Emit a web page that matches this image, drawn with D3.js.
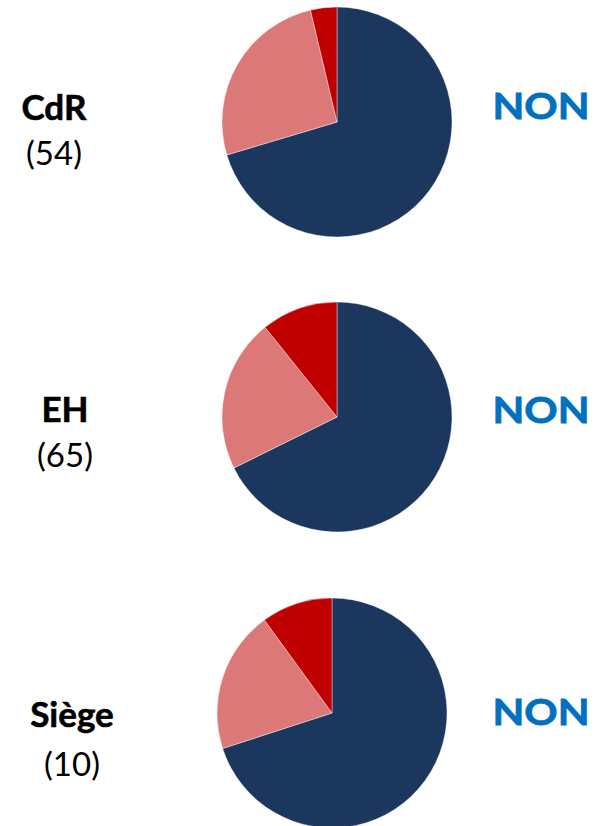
<!DOCTYPE html>
<html>
<head>
<meta charset="utf-8">
<script src="https://cdn.jsdelivr.net/npm/d3@7"></script>
<style>
body { margin: 0; background: #fff; }
</style>
</head>
<body>
<script>
let width = 604;
let height = 826;

// one row per group
let groups = ['CdR', 'EH', 'Siège'];
let counts = ['(54)', '(65)', '(10)'];
let answers = ['NON', 'NON', 'NON'];

// slice counts in drawing order (clockwise from 12 o'clock)
let sliceNames = ['non', 'partiel', 'oui'];
let cdrValues = [38, 14, 2];
let ehValues = [44, 14, 7];
let siegeValues = [7, 2, 1];
let allValues = [cdrValues, ehValues, siegeValues];

let colors = d3.scaleOrdinal()
.domain(sliceNames)
.range(['#1b375e', '#dc7877', '#c00000']);

let rows = [
    {cx: 337, cy: 122, lx: 54, nameY: 120, countY: 165, answerY: 119},
    {cx: 337, cy: 417, lx: 65, nameY: 422, countY: 467, answerY: 423},
    {cx: 332, cy: 713, lx: 72, nameY: 727, countY: 776, answerY: 725}
];
let radius = 115;

let pie = d3.pie()
.value(function(d){ return d.v; })
.sort(null);

let arc = d3.arc()
.innerRadius(0)
.outerRadius(radius);

let svg = d3.select('body')
.append('svg')
.attr('width', width)
.attr('height', height);

rows.forEach(function(r, i){
    let data = allValues[i].map(function(v, j){ return {k: sliceNames[j], v: v}; });

    let g = svg.append('g')
    .attr('transform', 'translate(' + r.cx + ',' + r.cy + ')');

    g.selectAll('path')
    .data(pie(data))
    .enter()
    .append('path')
    .attr('d', arc)
    .attr('fill', function(d){ return colors(d.data.k); })
    .attr('stroke', '#ffffff')
    .attr('stroke-width', 0.4);

    svg.append('text')
    .attr('x', r.lx)
    .attr('y', r.nameY)
    .attr('text-anchor', 'middle')
    .attr('font-family', 'Lato, sans-serif')
    .attr('font-weight', 'bold')
    .attr('font-size', 35)
    .attr('stroke', '#000')
    .attr('stroke-width', 0.6)
    .attr('fill', '#000')
    .text(groups[i]);

    svg.append('text')
    .attr('x', r.lx)
    .attr('y', r.countY)
    .attr('text-anchor', 'middle')
    .attr('font-family', 'Lato, sans-serif')
    .attr('font-size', 33)
    .attr('fill', '#000')
    .text(counts[i]);

    svg.append('text')
    .attr('x', 541)
    .attr('y', r.answerY)
    .attr('text-anchor', 'middle')
    .attr('font-family', 'Lato, sans-serif')
    .attr('font-weight', 'bold')
    .attr('font-size', 37)
    .attr('textLength', 97)
    .attr('lengthAdjust', 'spacingAndGlyphs')
    .attr('stroke', '#0070c0')
    .attr('stroke-width', 0.8)
    .attr('fill', '#0070c0')
    .text(answers[i]);
});
</script>
</body>
</html>
